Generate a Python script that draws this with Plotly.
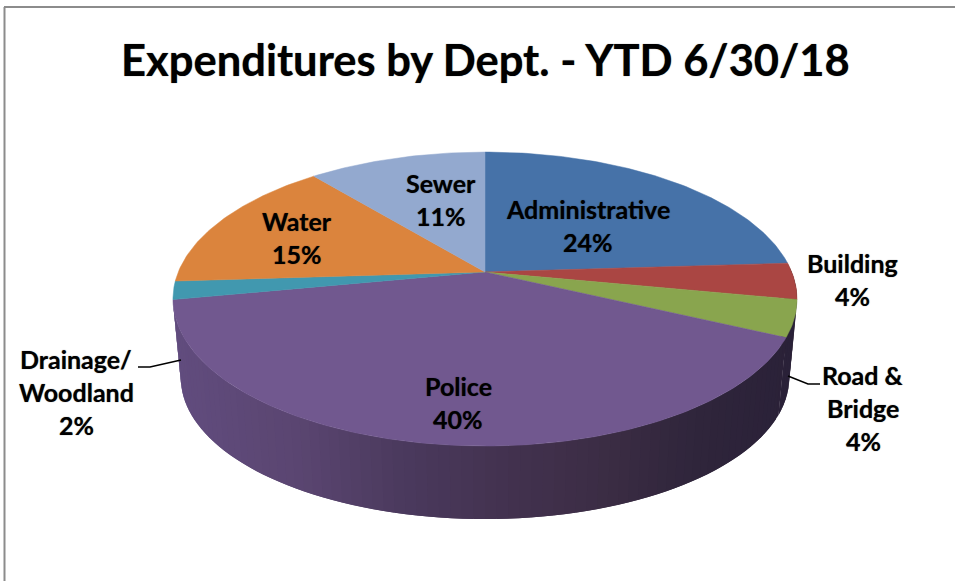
import numpy as np
import plotly.graph_objects as go

# Share of year-to-date spending, clockwise from twelve o'clock
departments = ["Administrative", "Building", "Road & Bridge", "Police",
               "Drainage/ Woodland", "Water", "Sewer"]
shares = [24, 4, 4, 40, 2, 15, 11]
face_colors = ["#4672a8", "#aa4643", "#89a54e", "#71588f", "#4198af", "#db843d", "#93a9cf"]
label_lines = [["Administrative"], ["Building"], ["Road &", "Bridge"], ["Police"],
               ["Drainage/", "Woodland"], ["Water"], ["Sewer"]]
TITLE = "Expenditures by Dept. - YTD 6/30/18"

# Centre of each slice's label block, in canvas units
label_centres = [(588, 225), (852, 279), (863, 408), (458, 402), (76, 392), (297, 237), (441, 199)]
LINE_STEP = 33

# Perspective disc: pivot, half-axes and tilt of the pie
CX, CY = 485.0, 272.0
RX, RY, TILT = 306.7, 142.0, 0.184
# Lower rim of the drum
RIM_SX, RIM_SY, RIM_DROP = 0.975, 0.96, 80.0

WALL_STOPS_X = [175, 300, 400, 500, 600, 700, 795]
WALL_STOPS_RGB = [(97, 76, 126), (90, 69, 112), (75, 58, 94), (67, 50, 80),
                  (60, 45, 69), (47, 37, 59), (42, 33, 56)]


def project(fraction):
    """Map a fraction of the full turn onto the tilted disc."""
    theta = 2 * np.pi * np.asarray(fraction)
    u, v = np.sin(theta), -np.cos(theta)
    d = 1 - TILT * v
    return RX * u / d, RY * v / d


def wall_color(x):
    channels = [np.interp(x, WALL_STOPS_X, [c[i] for c in WALL_STOPS_RGB]) for i in range(3)]
    return "rgb({:.0f},{:.0f},{:.0f})".format(*channels)


fig = go.Figure()
edges = np.concatenate([[0], np.cumsum(shares)]) / sum(shares)

# Drum wall: strips along the front, shaded left to right. Each strip runs under
# the next one so no seam shows between them.
for start, end, name, tint in [(edges[1], edges[2], departments[1], "#3a2f33"),
                               (edges[2], edges[3], departments[2], None),
                               (edges[3], edges[4], departments[3], None)]:
    steps = max(2, int((end - start) * 200))
    ticks = np.linspace(start, end, steps + 1)
    for k in range(steps):
        last = min(k + 2, steps)
        arc = np.linspace(ticks[k], ticks[last], 5)
        tx, ty = project(arc)
        xs = np.concatenate([CX + tx, CX + RIM_SX * tx[::-1], [CX + tx[0]]])
        ys = np.concatenate([CY + ty, CY + RIM_SY * ty[::-1] + RIM_DROP, [CY + ty[0]]])
        color = tint or wall_color(float(np.mean(CX + tx[:3])))
        fig.add_trace(go.Scatter(x=xs, y=ys, mode="lines", fill="toself", fillcolor=color,
                                 line=dict(width=0), name=name,
                                 hoverinfo="skip", showlegend=False))

# Top face of every slice
for i, name in enumerate(departments):
    arc = np.linspace(edges[i], edges[i + 1], max(12, shares[i] * 4))
    ax, ay = project(arc)
    xs = np.concatenate([[CX], CX + ax, [CX]])
    ys = np.concatenate([[CY], CY + ay, [CY]])
    fig.add_trace(go.Scatter(x=xs, y=ys, mode="lines", fill="toself",
                             fillcolor=face_colors[i],
                             line=dict(color=face_colors[i], width=0.5),
                             name=name, text=f"{name}: {shares[i]}%", hoverinfo="text",
                             showlegend=False))

# Leader lines for the two labels set outside the pie
for xs, ys in [([138, 150, 181], [367, 367, 360]), ([820, 808, 788], [384, 384, 376])]:
    fig.add_trace(go.Scatter(x=xs, y=ys, mode="lines", hoverinfo="skip", showlegend=False,
                             line=dict(color="#000000", width=1.4)))

# Slice labels, one annotation per text line so the leading stays even
annotations = []
for lines, share, (lx, ly) in zip(label_lines, shares, label_centres):
    rows = lines + [f"{share}%"]
    top = ly - LINE_STEP * (len(rows) - 1) / 2
    for j, row in enumerate(rows):
        annotations.append(dict(x=lx, y=top + j * LINE_STEP, text=row, showarrow=False,
                                xanchor="center", yanchor="middle",
                                font=dict(family="Lato", size=25, color="#000000", weight=700,
                                          shadow="0 0 1px rgba(0,0,0,0.6)")))
annotations.append(dict(x=485, y=59, text=TITLE, showarrow=False, xanchor="center",
                        yanchor="middle",
                        font=dict(family="Lato", size=43.5, color="#000000", weight=700,
                                  shadow="0 0 1px rgba(0,0,0,0.6)")))

fig.update_layout(
    width=955, height=581, margin=dict(l=0, r=0, t=0, b=0),
    paper_bgcolor="#ffffff", plot_bgcolor="#ffffff", showlegend=False,
    xaxis=dict(range=[0, 955], visible=False, fixedrange=True),
    yaxis=dict(range=[581, 0], visible=False, fixedrange=True),
    annotations=annotations,
    shapes=[
        dict(type="line", x0=4, x1=955, y0=7, y1=7, line=dict(color="#8c8c8c", width=2)),
        dict(type="line", x0=4.5, x1=4.5, y0=7, y1=581, line=dict(color="#8c8c8c", width=2)),
    ],
)

fig.write_html("out.html", config=dict(displayModeBar=False))
